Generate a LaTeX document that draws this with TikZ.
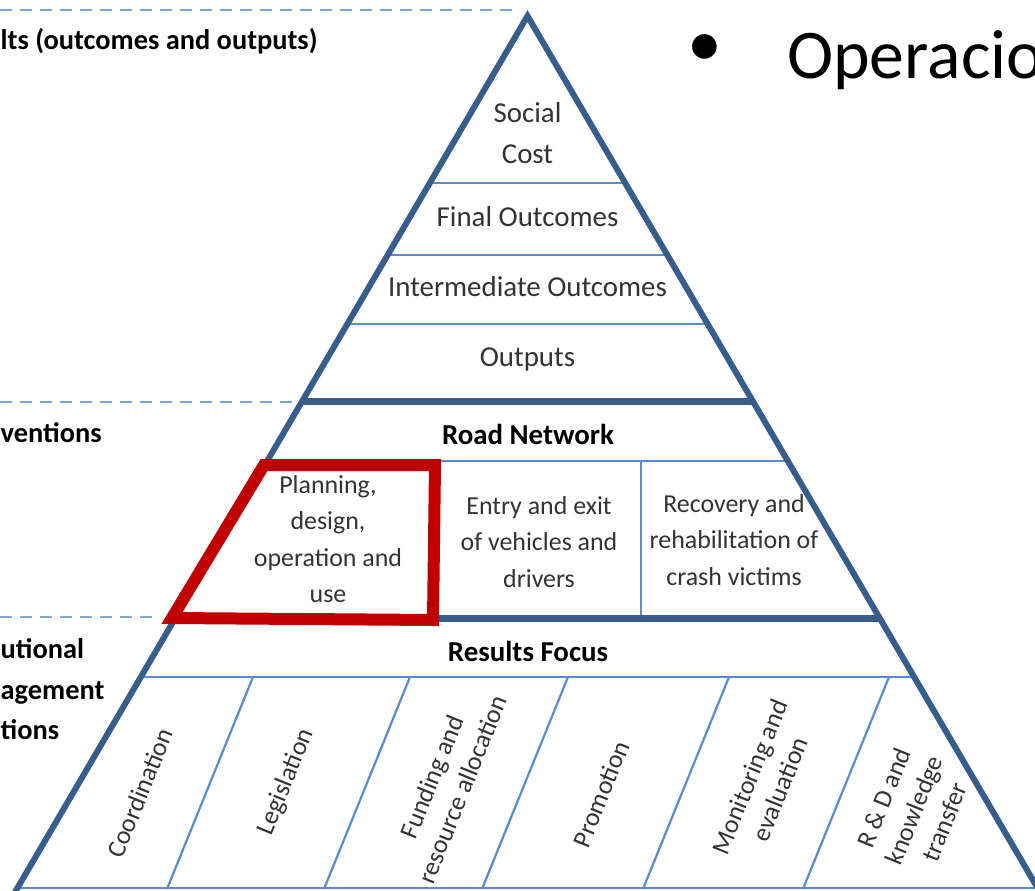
\documentclass[tikz,border=0pt]{standalone}
\usepackage{fontspec}
\setmainfont{Carlito}
\definecolor{pyr}{HTML}{385D8A}
\definecolor{thinc}{HTML}{5B8BC9}
\definecolor{dashc}{HTML}{7EA4D6}
\definecolor{hl}{HTML}{C00000}
\definecolor{txt}{HTML}{333333}
\begin{document}
\begin{tikzpicture}[x=1bp,y=-1bp,
  edge/.style={draw=pyr,line width=6bp,line join=miter},
  bar/.style={draw=pyr,line width=7bp},
  thinline/.style={draw=thinc,line width=2.2bp},
  guide/.style={draw=dashc,line width=2.4bp,dash pattern=on 12bp off 8bp},
  lab/.style={text=txt,font=\fontsize{29}{41}\selectfont,inner sep=0pt,align=center},
  small/.style={text=txt,font=\fontsize{26}{36.5}\selectfont,inner sep=0pt,align=center},
  rot/.style={text=txt,font=\fontsize{26}{33}\selectfont,inner sep=0pt,align=center,rotate=68},
  head/.style={text=black,font=\fontsize{29}{41}\selectfont\bfseries,inner sep=0pt},
  side/.style={text=black,font=\fontsize{28.5}{41}\selectfont\bfseries,inner sep=0pt,anchor=mid west}]
\useasboundingbox (0,0) rectangle (1035,891);
\clip (0,0) rectangle (1035,891);
\fill[white] (0,0) rectangle (1035,891);

% guide lines
\coordinate (g1a) at (0,10);   \coordinate (g1b) at (516,10);
\coordinate (g2a) at (0,402);  \coordinate (g2b) at (298,402);
\coordinate (g3a) at (0,617);  \coordinate (g3b) at (160,617);
\draw[guide] (g1a) -- (g1b);
\draw[guide] (g2a) -- (g2b);
\draw[guide] (g3a) -- (g3b);

% thin horizontal lines
\draw[thinline] (429.8,183) -- (625.2,183);
\draw[thinline] (387.7,255) -- (667.3,255);
\draw[thinline] (347.3,324) -- (707.7,324);
\draw[thinline] (267.2,461) -- (787.8,461);
\draw[thinline] (140.8,677) -- (914.2,677);
\draw[thinline] (16.8,888) -- (1040,888);
% vertical dividers
\draw[thinline] (437,461) -- (437,618);
\draw[thinline] (641,461) -- (641,618);
% slanted dividers
\draw[thinline] (253,677) -- (167,889);
\draw[thinline] (410,677) -- (324,889);
\draw[thinline] (568,677) -- (482,889);
\draw[thinline] (729,677) -- (643,889);
\draw[thinline] (889,677) -- (803,889);

% thick bars
\draw[bar] (302.3,401) -- (752.7,401);
\draw[bar] (174.7,618) -- (880.3,618);

% pyramid sides
\coordinate (apex) at (527.5,16);
\coordinate (bl) at (10.4,900);
\coordinate (br) at (1044.6,900);
\draw[edge] (bl) -- (apex) -- (br);

% highlight box
\draw[hl,line width=12bp,line join=miter] (264,465) -- (435,465) -- (433,620) -- (172,618) -- cycle;

% pyramid labels
\node[lab] (social) at (527.5,133) {Social\\Cost};
\node[lab] (final) at (527.5,217) {Final Outcomes};
\node[lab] (inter) at (527.5,287) {Intermediate Outcomes};
\node[lab] (outputs) at (527.5,359) {Outputs};
\node[head] (road) at (528,434) {Road Network};
\node[small] (plan) at (328,539) {Planning,\\design,\\operation and\\use};
\node[small] (entry) at (539,542) {Entry and exit\\of vehicles and\\drivers};
\node[small] (recov) at (734,540) {Recovery and\\rehabilitation of\\crash victims};
\node[head] (results) at (528,651) {Results Focus};

\node[rot] (coord) at (140,793) {Coordination};
\node[rot] (legis) at (286,782) {Legislation};
\node[rot] (fund) at (447,783) {Funding and\\resource allocation};
\node[rot] (promo) at (601,794) {Promotion};
\node[rot] (monit) at (765,783) {Monitoring and\\evaluation};
\node[rot] (rd) at (914,810) {R \& D and\\knowledge\\transfer};

% side labels (clipped at the left edge)
\node[side] (s1) at (0.5,47) {lts (outcomes and outputs)};
\node[side] (s2) at (0.5,440) {ventions};
\node[side] (s3) at (0.5,656) {utional};
\node[side] (s4) at (0.5,697) {agement};
\node[side] (s5) at (0.5,737) {tions};

% slide text
\node[font=\fontsize{70}{80}\selectfont,inner sep=0pt] (bul) at (705,51) {•};
\node[font=\fontsize{70}{80}\selectfont,inner sep=0pt,anchor=base west] (oper) at (787,78) {Operacio};
\end{tikzpicture}
\end{document}
